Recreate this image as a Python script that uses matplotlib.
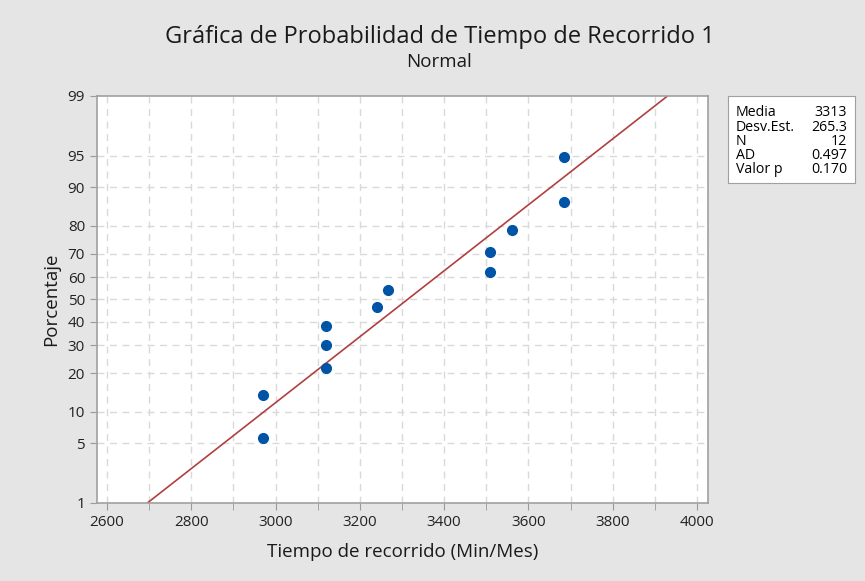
from statistics import NormalDist

import matplotlib
matplotlib.use("Agg")
import numpy as np
from matplotlib import pyplot as plt

# tiempo de recorrido (Min/Mes) y porcentaje acumulado
tiempo = [2970, 2970, 3120, 3120, 3120, 3240, 3268, 3508, 3508, 3562, 3684, 3684]
porcentaje = [5.6, 13.7, 21.8, 30.2, 38.3, 46.4, 54.4, 62.5, 70.6, 78.6, 86.7, 94.8]

media = 3313
desv = 265.3
stats_names = ["Media", "Desv.Est.", "N", "AD", "Valor p"]
stats_vals = ["3313", "265.3", "12", "0.497", "0.170"]

y_ticks = [1, 5, 10, 20, 30, 40, 50, 60, 70, 80, 90, 95, 99]
x_ticks = [2600, 2800, 3000, 3200, 3400, 3600, 3800, 4000]

nd = NormalDist()


def z(p):
    return np.array([nd.inv_cdf(v / 100.0) for v in np.atleast_1d(p)])


plt.rcParams["font.family"] = ["Open Sans", "DejaVu Sans"]
bg = "#e5e5e5"
fig = plt.figure(figsize=(8.65, 5.81), dpi=100, facecolor=bg)

ax = fig.add_axes([0.112, 0.1343, 0.7064, 0.7005])
ax.set_facecolor("white")

# grid
for xv in range(2600, 4001, 100):
    ax.axvline(xv, color="#d9d9d9", lw=1, ls=(0, (5, 4)), zorder=0)
for yv in z(y_ticks)[1:-1]:
    ax.axhline(yv, color="#d9d9d9", lw=1, ls=(0, (5, 4)), zorder=0)

# recta ajustada
zl = z([1, 99])
ax.plot(media + zl * desv, zl, color="#b04040", lw=1.2, zorder=2)

ax.plot(tiempo, z(porcentaje), "o", color="#0054a6", ms=7, zorder=3)

ax.set_xlim(2576, 4026)
ax.set_ylim(zl[0], zl[1])
ax.set_xticks(x_ticks)
ax.set_xticks(range(2700, 4000, 200), minor=True)
ax.set_yticks(z(y_ticks))
ax.set_yticklabels([str(v) for v in y_ticks])
ax.tick_params(which="both", color="#9a9a9a", length=5, labelsize=11,
               labelcolor="#222222")
for s in ax.spines.values():
    s.set_color("#a0a0a0")
    s.set_linewidth(1.2)

ax.set_xlabel("Tiempo de recorrido (Min/Mes)", fontsize=13.5, color="#1a1a1a")
ax.set_ylabel("Porcentaje", fontsize=13.5, color="#1a1a1a")
ax.xaxis.set_label_coords(0.5, -0.098)
ax.yaxis.set_label_coords(-0.06, 0.5)

fig.text(0.508, 0.936, "Gráfica de Probabilidad de Tiempo de Recorrido 1",
         ha="center", va="center", fontsize=17, color="#1a1a1a")
fig.text(0.508, 0.893, "Normal", ha="center", va="center", fontsize=13.5,
         color="#1a1a1a")

# cuadro de estadisticos
bx = fig.add_axes([0.8416, 0.685, 0.1468, 0.1497])
bx.set_facecolor("white")
bx.set_xticks([])
bx.set_yticks([])
for s in bx.spines.values():
    s.set_color("#a0a0a0")
for i, (n, v) in enumerate(zip(stats_names, stats_vals)):
    yy = 0.805 - i * 0.161
    bx.text(0.063, yy, n, ha="left", va="center", fontsize=10.2, transform=bx.transAxes)
    bx.text(0.937, yy, v, ha="right", va="center", fontsize=10.2, transform=bx.transAxes)

fig.savefig("out.png", dpi=100, facecolor=bg)
